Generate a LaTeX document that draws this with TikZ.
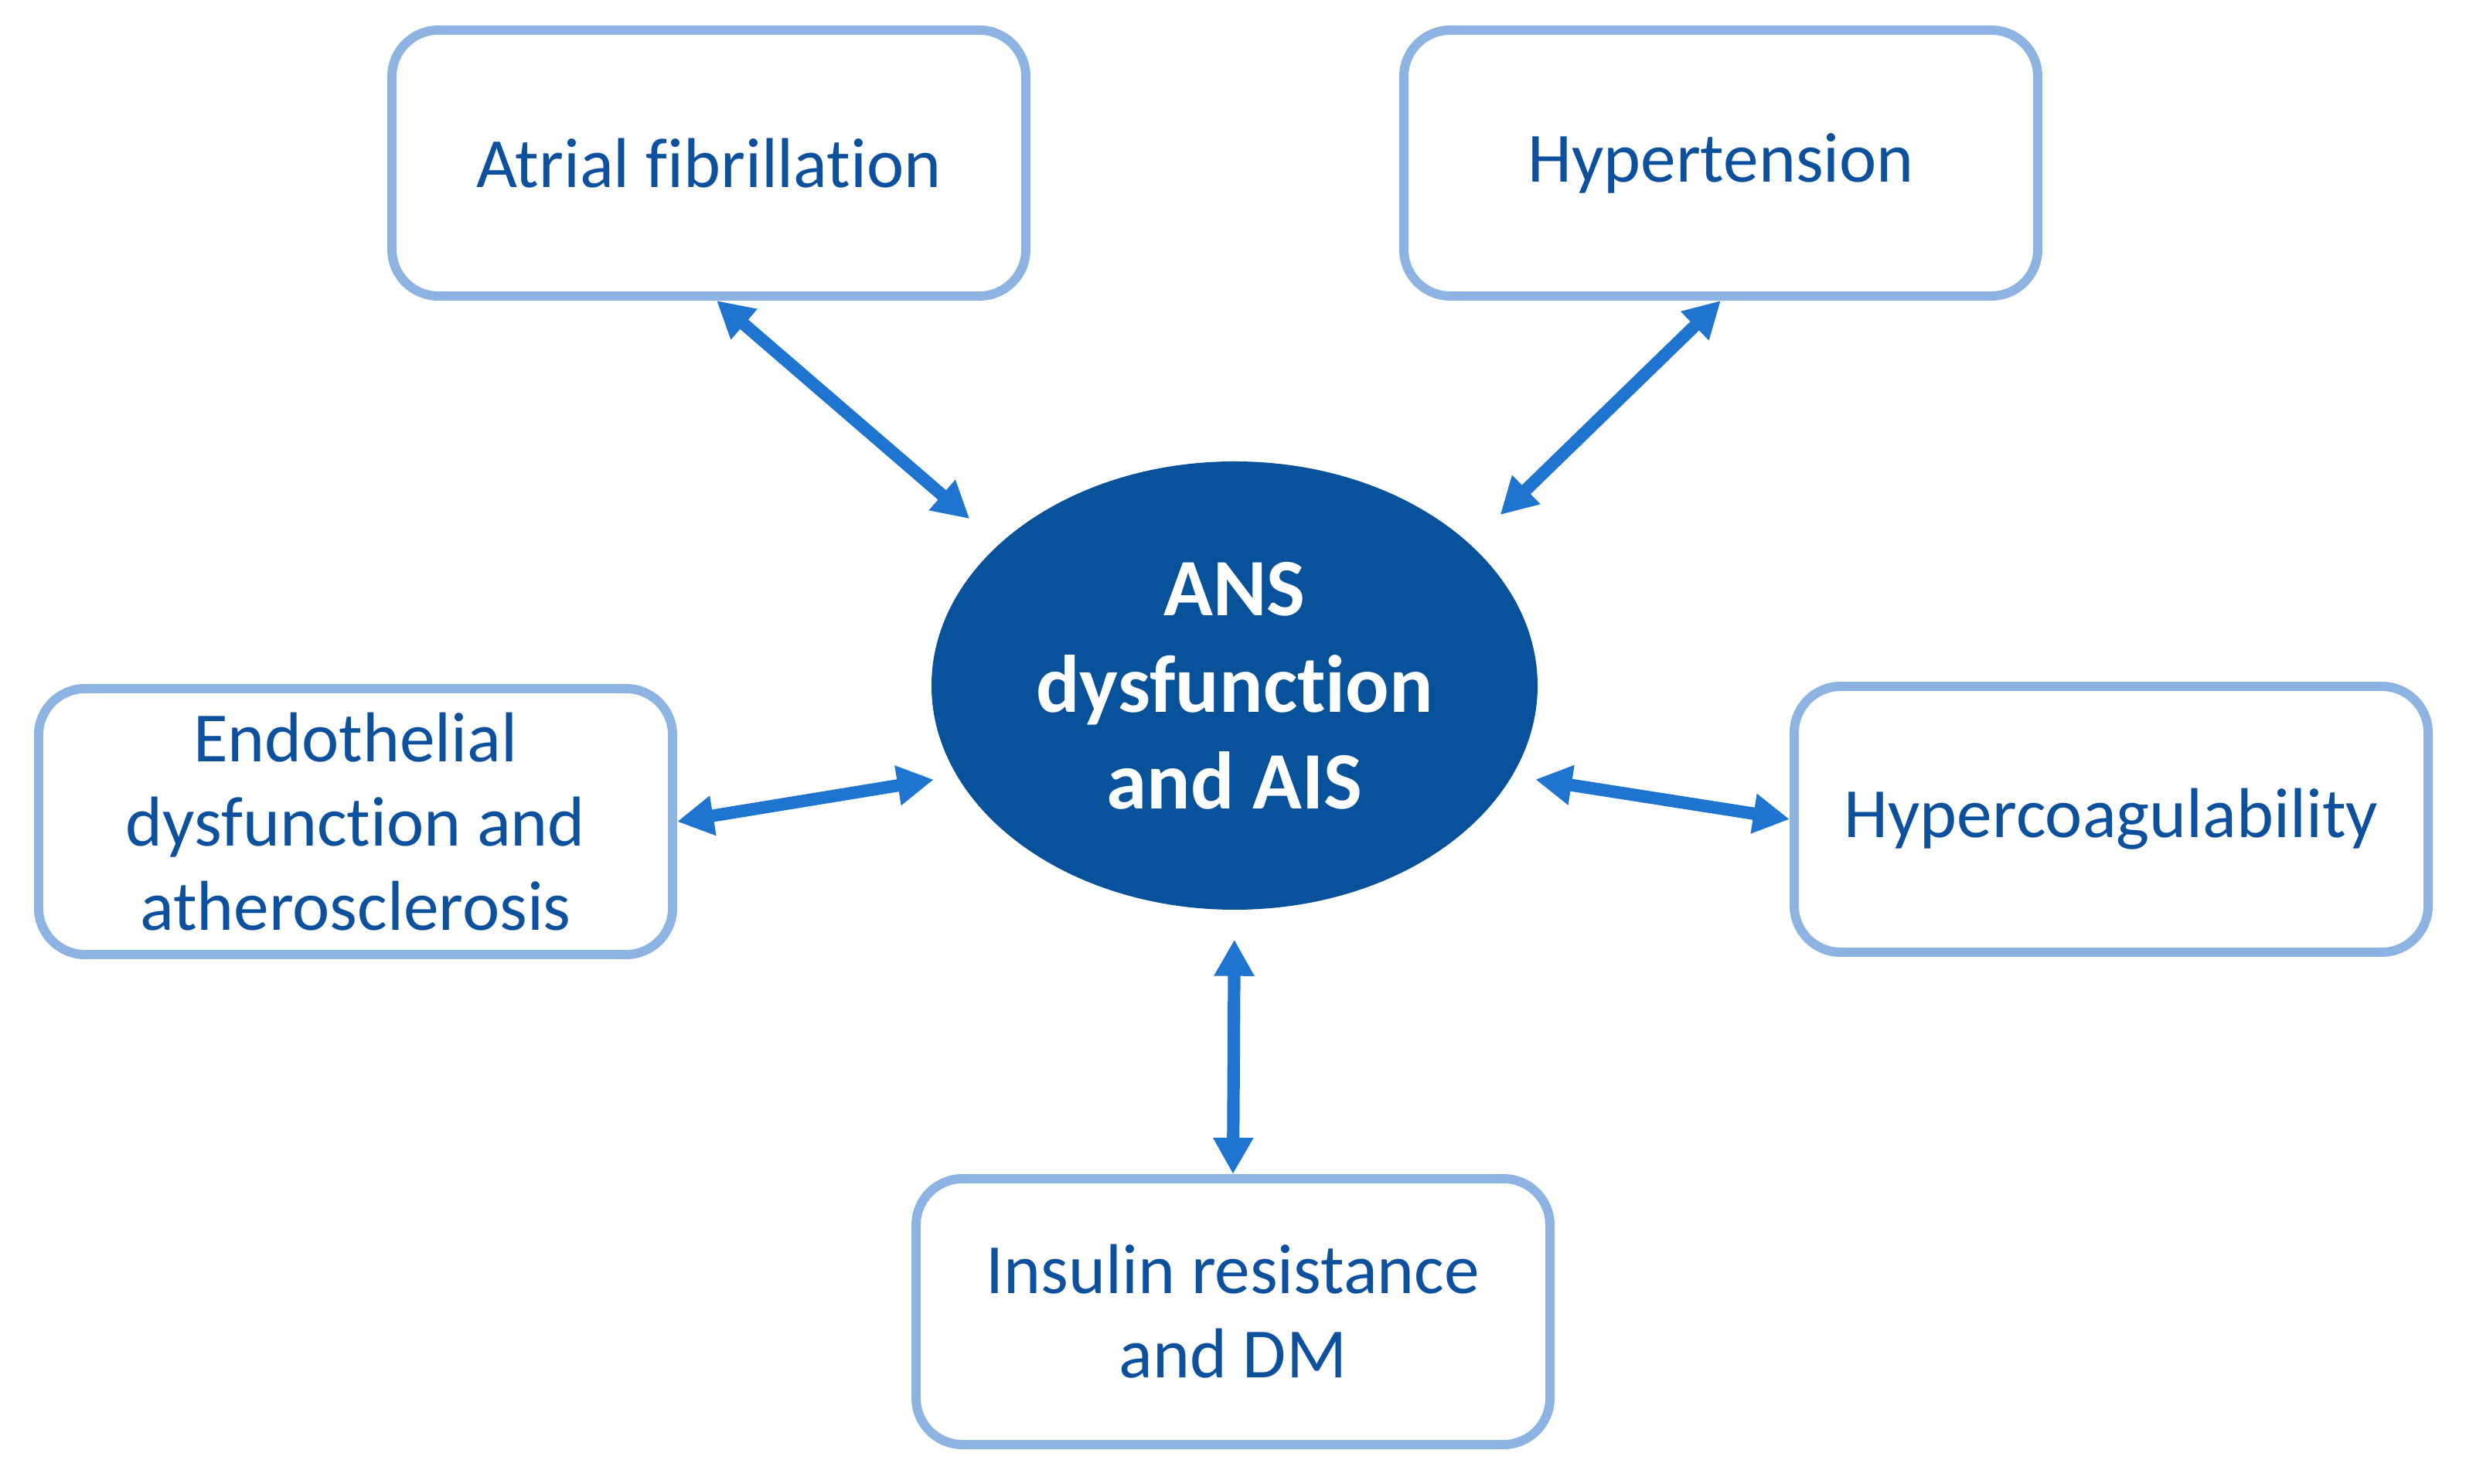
\documentclass[tikz,border=0pt]{standalone}
\usepackage{fontspec}
\setmainfont{Carlito}[Ligatures=CommonOff]
\usetikzlibrary{shapes.geometric,arrows.meta}
\definecolor{boxline}{RGB}{141,179,226}
\definecolor{textblue}{RGB}{12,80,158}
\definecolor{ansfill}{RGB}{8,82,155}
\definecolor{arrowblue}{RGB}{30,116,206}
\begin{document}
\begin{tikzpicture}[
  factor/.style={draw=boxline, line width=3.4pt, rounded corners=0.6cm,
    minimum width=8.2cm, minimum height=3.44cm, align=center,
    text=textblue, font=\fontsize{26}{31}\selectfont},
  link/.style={draw=arrowblue, line width=4.6pt,
    {Triangle[length=4.7mm,width=4.9mm]}-{Triangle[length=4.7mm,width=4.9mm]}}]
\useasboundingbox (0,0) rectangle (31.9,19.2);
% centre
\node[ellipse, fill=ansfill, minimum width=7.84cm, minimum height=5.80cm, inner sep=0pt,
  align=center, text=white, font=\bfseries\fontsize{30}{35.6}\selectfont]
  (ans) at (15.97,10.33) {ANS\\dysfunction\\and AIS};
% factors
\node[factor] (af) at (9.17,17.09) {Atrial fibrillation};
\node[factor] (ht) at (22.26,17.09) {Hypertension};
\node[factor] (en) at (4.60,8.57) {Endothelial\\dysfunction and\\atherosclerosis};
\node[factor] (hc) at (27.31,8.60) {Hypercoagulability};
\node[factor] (ir) at (15.95,2.23) {Insulin resistance\\and DM};
% links
\draw[link, shorten >=5mm] ([xshift=1mm]af.south) -- (ans.149);
\draw[link, shorten >=5.4mm] (ht.south) -- (ans.31);
\draw[link, shorten >=3mm] (en.east) -- (ans.198);
\draw[link, shorten >=3mm] (hc.west) -- (ans.-18);
\draw[link, shorten >=3.8mm] (ir.north) -- (ans.-90);
\end{tikzpicture}
\end{document}
